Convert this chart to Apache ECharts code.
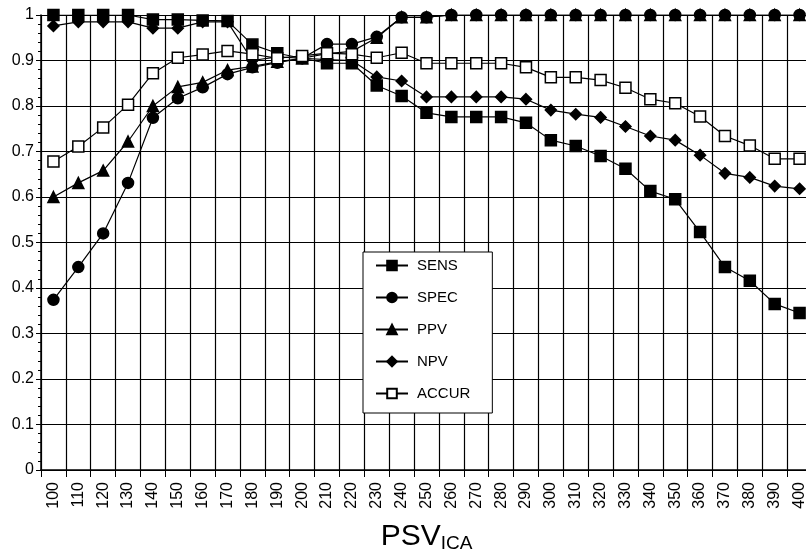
<!DOCTYPE html>
<html>
<head>
<meta charset="utf-8">
<script src="https://cdn.jsdelivr.net/npm/echarts@6/dist/echarts.min.js"></script>
<style>
  html, body { margin: 0; padding: 0; background: #fff; }
  #chart { width: 806px; height: 556px; }
</style>
</head>
<body>
<div id="chart"></div>
<script>
// PSV cut-off values
var psv = ['100','110','120','130','140','150','160','170','180','190','200',
           '210','220','230','240','250','260','270','280','290','300',
           '310','320','330','340','350','360','370','380','390','400'];

var sens  = [1, 1, 1, 1, 0.99, 0.99, 0.988, 0.987, 0.935, 0.916, 0.905,
             0.894, 0.894, 0.845, 0.822, 0.785, 0.776, 0.776, 0.776, 0.763, 0.725,
             0.712, 0.69, 0.662, 0.613, 0.595, 0.523, 0.446, 0.416, 0.365, 0.345];
var spec  = [0.374, 0.446, 0.52, 0.631, 0.774, 0.817, 0.841, 0.87, 0.885, 0.895, 0.905,
             0.936, 0.936, 0.952, 0.995, 0.995, 1, 1, 1, 1, 1,
             1, 1, 1, 1, 1, 1, 1, 1, 1, 1];
var ppv   = [0.6, 0.631, 0.658, 0.722, 0.8, 0.842, 0.852, 0.879, 0.887, 0.897, 0.905,
             0.915, 0.92, 0.95, 0.995, 0.995, 1, 1, 1, 1, 1,
             1, 1, 1, 1, 1, 1, 1, 1, 1, 1];
var npv   = [0.976, 0.985, 0.985, 0.985, 0.971, 0.971, 0.985, 0.985, 0.9, 0.908, 0.905,
             0.902, 0.9, 0.864, 0.855, 0.82, 0.82, 0.82, 0.82, 0.815, 0.791,
             0.782, 0.775, 0.755, 0.734, 0.725, 0.692, 0.652, 0.643, 0.624, 0.618];
var accur = [0.678, 0.711, 0.753, 0.803, 0.872, 0.906, 0.913, 0.921, 0.914, 0.905, 0.91,
             0.916, 0.914, 0.906, 0.917, 0.894, 0.894, 0.894, 0.894, 0.885, 0.863,
             0.863, 0.857, 0.84, 0.815, 0.806, 0.777, 0.734, 0.713, 0.684, 0.684];

var FONT = 'Liberation Sans';

function makeSeries(name, data, symbol, size, fill) {
    return {
        type: 'line',
        name: name,
        data: data,
        symbol: symbol,
        symbolSize: size,
        showSymbol: true,
        lineStyle: { color: '#000', width: 1.2 },
        itemStyle: { color: fill, borderColor: '#000', borderWidth: 1.5 },
        emphasis: { disabled: true },
        animation: false
    };
}

var series = [
    makeSeries('SENS', sens, 'rect', 11, '#000'),
    makeSeries('SPEC', spec, 'circle', 11, '#000'),
    makeSeries('PPV', ppv, 'triangle', 11, '#000'),
    makeSeries('NPV', npv, 'diamond', 11, '#000'),
    makeSeries('ACCUR', accur, 'rect', 11, '#fff')
];

var option = {
    backgroundColor: '#fff',
    animation: false,
    grid: { left: 41, right: -6, top: 15, bottom: 86, outerBoundsMode: 'none', containLabel: false },
    legend: {
        orient: 'vertical',
        left: 363,
        top: 252,
        padding: [6, 22, 12, 12],
        itemWidth: 32,
        itemHeight: 12,
        itemGap: 17,
        backgroundColor: '#fff',
        borderColor: '#000',
        borderWidth: 1,
        textStyle: { fontFamily: FONT, fontSize: 15, color: '#000', padding: [0, 0, 0, 4] },
        data: ['SENS', 'SPEC', 'PPV', 'NPV', 'ACCUR']
    },
    xAxis: {
        type: 'category',
        data: psv,
        boundaryGap: true,
        axisLine: { lineStyle: { color: '#000', width: 1.5 } },
        axisTick: { show: true, interval: 0, length: 7, lineStyle: { color: '#000' } },
        splitLine: { show: true, interval: 0, lineStyle: { color: '#000', width: 1.2 } },
        axisLabel: {
            interval: 0, rotate: 90, margin: 12,
            fontFamily: FONT, fontSize: 16, color: '#000'
        },
        name: '{a|PSV}{b|ICA}',
        nameLocation: 'middle',
        nameGap: 50,
        nameTextStyle: {
            rich: {
                a: { fontFamily: FONT, fontSize: 30, color: '#000' },
                b: { fontFamily: FONT, fontSize: 19, color: '#000', padding: [14, 0, 0, 0] }
            }
        }
    },
    yAxis: {
        type: 'value',
        min: 0,
        max: 1,
        interval: 0.1,
        axisLine: { show: true, lineStyle: { color: '#000', width: 1.5 } },
        axisTick: { show: true, length: 5, lineStyle: { color: '#000' } },
        minorTick: { show: true, splitNumber: 5, length: 3, lineStyle: { color: '#000' } },
        splitLine: { show: true, lineStyle: { color: '#000', width: 1.2 } },
        axisLabel: {
            margin: 7,
            fontFamily: FONT, fontSize: 16, color: '#000',
            formatter: function(v) { return String(Math.round(v * 10) / 10); }
        }
    },
    series: series
};

var chart = echarts.init(document.getElementById('chart'));
chart.setOption(option);
</script>
</body>
</html>
